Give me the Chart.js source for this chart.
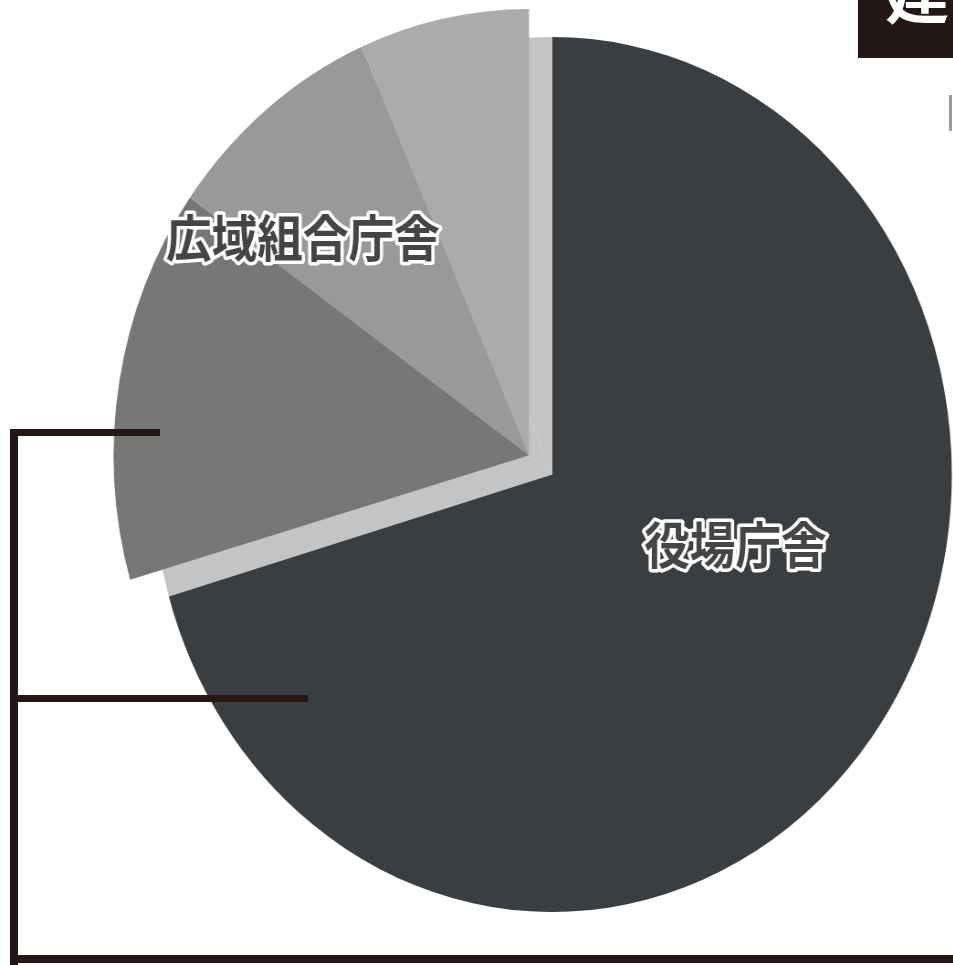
<!DOCTYPE html>
<html lang="ja">
<head>
<meta charset="utf-8">
<script src="https://cdn.jsdelivr.net/npm/chart.js@4.4.1/dist/chart.umd.min.js"></script>
<style>
  html, body { margin: 0; padding: 0; background: #fff; width: 953px; height: 965px; overflow: hidden; }
  #wrap { position: absolute; left: 0; top: 0; width: 1044px; height: 965px; transform: scaleX(0.913); transform-origin: 0 0; }
  .rule { position: absolute; background: #231815; }
  #titleBox { position: absolute; left: 858px; top: 0; width: 95px; height: 58px; background: #231815; overflow: hidden; }
  #titleBox span { position: absolute; left: 27px; top: -42px; font: bold 64px "Noto Sans CJK JP", sans-serif; line-height: 64px; color: #fff; white-space: nowrap; }
  #tick { position: absolute; left: 949px; top: 95px; width: 3px; height: 36px; background: #9a9a9a; }
</style>
</head>
<body>
<div id="wrap"><canvas id="pie"></canvas></div>

<div class="rule" style="left:10px; top:429px; width:8px; height:536px;"></div>
<div class="rule" style="left:10px; top:429px; width:150px; height:7px;"></div>
<div class="rule" style="left:10px; top:695px; width:298px; height:7px;"></div>
<div class="rule" style="left:10px; top:955px; width:943px; height:8px;"></div>

<div id="titleBox"><span>建</span></div>
<div id="tick"></div>

<script>
// slices, clockwise from 12 o'clock
const categories = ['役場庁舎', '', '広域組合庁舎', ''];
const shares = [70.5, 14.3, 8.6, 6.6];
const sliceColors = ['#3b3e41', '#777777', '#999999', '#ababab'];
const exploded = [false, true, true, true];

// where each label sits inside its slice (fraction of the sweep, fraction of the radius)
const labelAngleFrac = [0.431, 0, 0.21, 0];
const labelRadiusFrac = [0.486, 0, 0.73, 0];

const explodeDistance = 32;
const explodeScale = { x: 1.04, y: 1.02 };
const baseColor = '#c4c4c4';

// move ctx so the pulled-out group is drawn shifted and slightly enlarged around its apex
function groupTransform(ctx, cx, cy, shift) {
  ctx.translate(cx + shift.dx, cy + shift.dy);
  ctx.scale(explodeScale.x, explodeScale.y);
  ctx.translate(-cx, -cy);
}

const explodePlugin = {
  id: 'explodeGroup',
  beforeDatasetDraw(chart, args) {
    const ctx = chart.ctx;
    const arcs = args.meta.data;
    const group = arcs.filter((a, i) => exploded[i]);
    const start = group[0].getProps(['startAngle']).startAngle;
    const end = group[group.length - 1].getProps(['endAngle']).endAngle;
    const mid = (start + end) / 2;
    const shift = { dx: Math.cos(mid) * explodeDistance, dy: Math.sin(mid) * explodeDistance };
    const c = group[0].getProps(['x', 'y']);

    // light "depth" face left behind where the group was pulled out
    ctx.save();
    ctx.fillStyle = baseColor;
    group.forEach(arc => {
      const p = arc.getProps(['x', 'y', 'startAngle', 'endAngle', 'outerRadius']);
      ctx.beginPath();
      ctx.moveTo(p.x, p.y);
      ctx.arc(p.x, p.y, p.outerRadius, p.startAngle, p.endAngle);
      ctx.closePath();
      ctx.fill();
    });
    ctx.restore();

    arcs.forEach((arc, i) => { if (!exploded[i]) arc.draw(ctx); });

    ctx.save();
    groupTransform(ctx, c.x, c.y, shift);
    arcs.forEach((arc, i) => { if (exploded[i]) arc.draw(ctx); });
    ctx.restore();

    chart.$shift = shift;
    return false;
  },
  afterDatasetsDraw(chart) {
    const ctx = chart.ctx;
    const arcs = chart.getDatasetMeta(0).data;
    const shift = chart.$shift || { dx: 0, dy: 0 };
    ctx.font = 'bold 50px "Noto Sans CJK JP", sans-serif';
    ctx.textAlign = 'center';
    ctx.textBaseline = 'middle';
    ctx.lineJoin = 'round';
    arcs.forEach((arc, i) => {
      const text = categories[i];
      if (!text) return;
      const p = arc.getProps(['x', 'y', 'startAngle', 'endAngle', 'outerRadius']);
      const a = p.startAngle + (p.endAngle - p.startAngle) * labelAngleFrac[i];
      const r = p.outerRadius * labelRadiusFrac[i];
      let x = p.x + Math.cos(a) * r;
      let y = p.y + Math.sin(a) * r;
      if (exploded[i]) {
        x = p.x + shift.dx + (x - p.x) * explodeScale.x;
        y = p.y + shift.dy + (y - p.y) * explodeScale.y;
      }
      ctx.save();
      ctx.lineWidth = 7;
      ctx.strokeStyle = '#ffffff';
      ctx.strokeText(text, x, y);
      ctx.fillStyle = '#454545';
      ctx.fillText(text, x, y);
      ctx.restore();
    });
  }
};

document.addEventListener('DOMContentLoaded', function () {
  const ctx = document.getElementById('pie').getContext('2d');
  new Chart(ctx, {
    type: 'pie',
    data: {
      labels: categories,
      datasets: [{
        data: shares,
        backgroundColor: sliceColors,
        borderWidth: 0
      }]
    },
    options: {
      responsive: true,
      maintainAspectRatio: false,
      animation: false,
      layout: { padding: { left: 167, right: 1, top: 37, bottom: 53 } },
      plugins: {
        legend: { display: false },
        tooltip: { enabled: false }
      }
    },
    plugins: [explodePlugin]
  });
});
</script>
</body>
</html>
